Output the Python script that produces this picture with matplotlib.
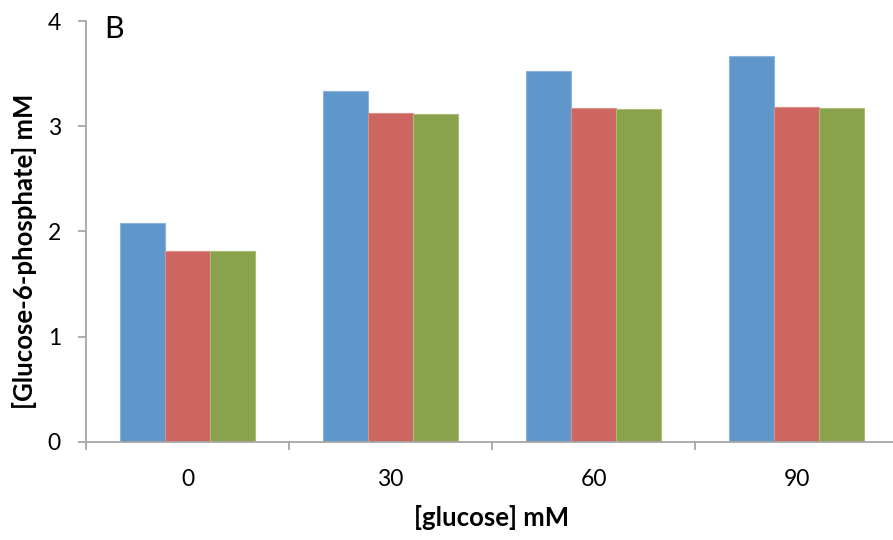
import matplotlib
matplotlib.use("Agg")
import matplotlib.pyplot as plt
import numpy as np

# data
glucose = ["0", "30", "60", "90"]
series_a = [2.08, 3.33, 3.52, 3.67]
series_b = [1.81, 3.13, 3.17, 3.18]
series_c = [1.81, 3.12, 3.16, 3.17]

colors = ["#6097CB", "#CD6560", "#8AA24B"]
edges = ["#8DB3DC", "#DC8F8B", "#A9BD74"]

plt.rcParams["font.family"] = ["Lato", "DejaVu Sans"]

W, H = 893, 540
ax_l, ax_b, ax_t = 86, 441.7, 21
fig = plt.figure(figsize=(W / 100, H / 100), dpi=100)
ax = fig.add_axes([ax_l / W, (H - ax_b) / H, (W - ax_l) / W, (ax_b - ax_t) / H])

x = np.arange(len(glucose))
w = 0.222
for i, (vals, c, ec) in enumerate(zip([series_a, series_b, series_c], colors, edges)):
    ax.bar(x + (i - 1) * w, vals, width=w, color=c, edgecolor=ec, linewidth=0.8, zorder=2)

ax.set_ylim(0, 4)
ax.set_xlim(-0.5, 3.5 - 5 / 203)
ax.set_yticks([0, 1, 2, 3, 4])
ax.set_xticks(x)
ax.set_xticklabels(glucose)
ax.set_xticks(np.arange(len(glucose)) - 0.5, minor=True)

grey = "#A6A6A6"
for s in ["top", "right"]:
    ax.spines[s].set_visible(False)
for s in ["left", "bottom"]:
    ax.spines[s].set_color(grey)
    ax.spines[s].set_linewidth(1.3)

ax.tick_params(axis="y", direction="out", length=6, width=1.3, color=grey,
               pad=12, labelsize=16.5)
ax.tick_params(axis="x", which="major", length=0, pad=20, labelsize=16.5)
ax.tick_params(axis="x", which="minor", direction="out", length=6, width=1.3, color=grey)

ax_w = W - ax_l
ax_h = ax_b - ax_t
ax.set_ylabel("[Glucose-6-phosphate] mM", fontsize=18.5, fontweight="bold", va="center")
ax.yaxis.set_label_coords((25 - ax_l) / ax_w, 0.5 - 20 / ax_h)
ax.set_xlabel("[glucose] mM", fontsize=18.5, fontweight="bold", va="center")
ax.xaxis.set_label_coords((492 - ax_l) / ax_w, (ax_b - 517) / ax_h)

fig.text(104 / W, 1 - 29 / H, "B", fontsize=22, va="center", ha="left")

fig.savefig("out.png", dpi=100)
